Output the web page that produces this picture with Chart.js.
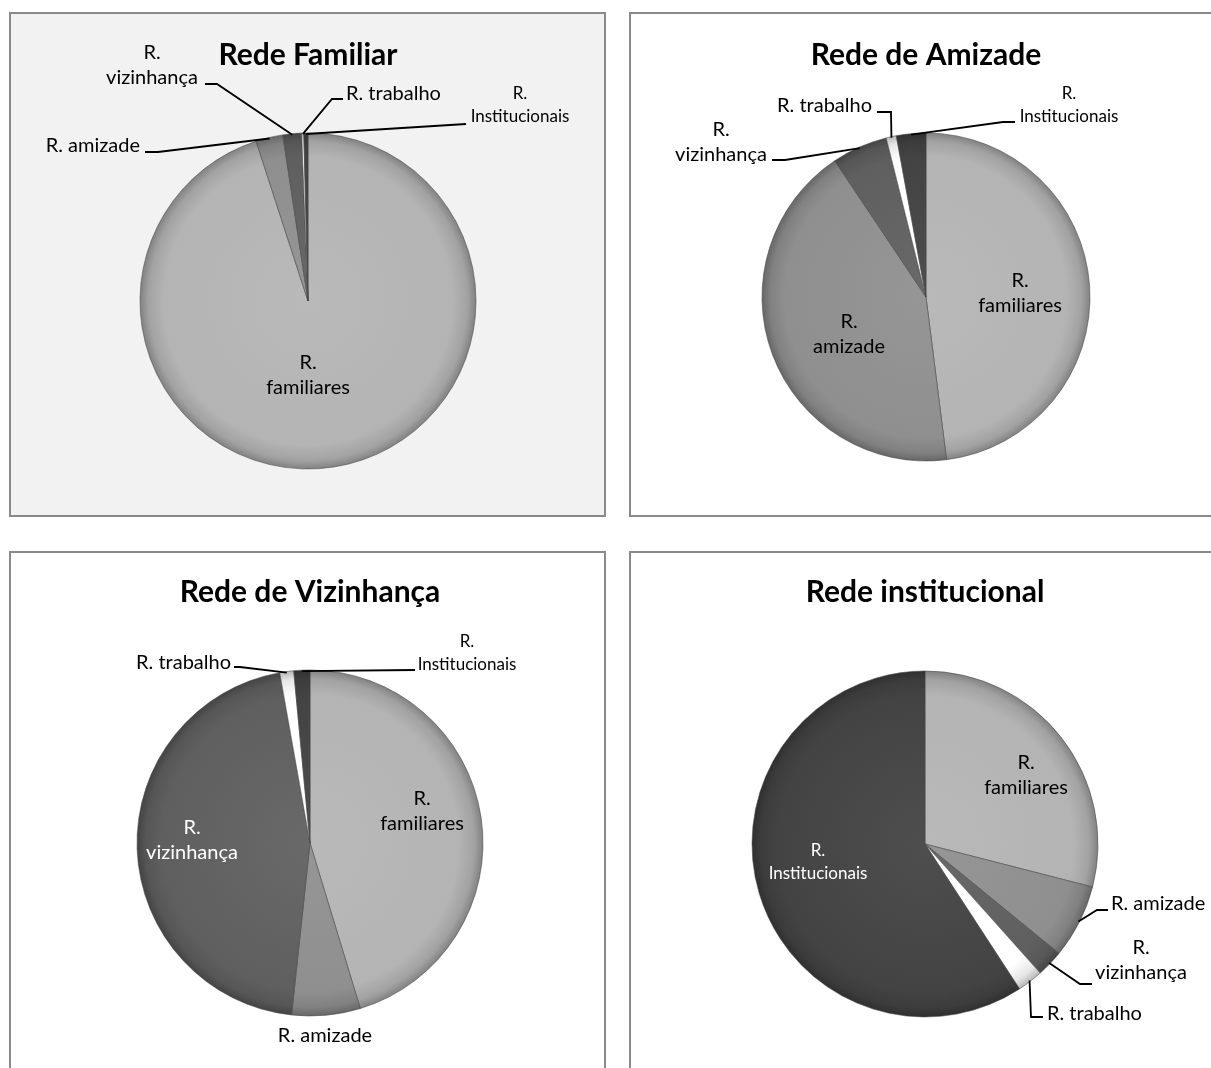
<!DOCTYPE html>
<html lang="pt">
<head>
<meta charset="utf-8">
<title>Redes de suporte</title>
<script src="https://cdn.jsdelivr.net/npm/chart.js@4.4.1/dist/chart.umd.min.js"></script>
<style>
html, body { margin: 0; padding: 0; background: #fff; overflow: hidden; width: 1211px; height: 1068px; }
.painel { position: absolute; border: 2px solid #8a8a8a; box-sizing: border-box; background: #fff; }
.painel canvas { display: block; }
</style>
</head>
<body>
<div class="painel" style="left:9px;top:12px;width:597px;height:505px;background:#f2f2f2"><canvas id="c1"></canvas></div>
<div class="painel" style="left:629px;top:12px;width:600px;height:505px"><canvas id="c2"></canvas></div>
<div class="painel" style="left:9px;top:551px;width:597px;height:540px"><canvas id="c3"></canvas></div>
<div class="painel" style="left:629px;top:551px;width:600px;height:540px"><canvas id="c4"></canvas></div>
<script>
// dados (percentagens)
var categorias = ['R. familiares', 'R. amizade', 'R. vizinhança', 'R. trabalho', 'R. Institucionais'];
var redeFamiliar = [95.0, 2.6, 1.8, 0.2, 0.4];
var redeAmizade = [48.0, 42.6, 5.5, 1.0, 2.9];
var redeVizinhanca = [45.3, 6.4, 45.5, 1.3, 1.5];
var redeInstitucional = [29.0, 6.9, 2.5, 2.4, 59.2];
var titulos = ['Rede Familiar', 'Rede de Amizade', 'Rede de Vizinhança', 'Rede institucional'];

var cores = ['#b4b4b4', '#8f8f8f', '#5f5f5f', '#ffffff', '#434343'];
var FONTE = 'Lato, "Open Sans", sans-serif';

// posicoes na pagina (origem do canvas, centro e raio da pizza, rotulos)
var paineis = [
	{ id: 'c1', dados: redeFamiliar, ox: 11, oy: 14, w: 593, h: 501, cx: 308, cy: 301, r: 168, tituloY: 55,
		rotulos: [
			{ i: 0, x: 308, y: 363, quebra: true },
			{ i: 1, x: 140, y: 146, alinhar: 'right', linha: [[158, 152], [145, 152]] },
			{ i: 2, x: 152, y: 53, quebra: true, linha: [[217, 84], [205, 84]] },
			{ i: 3, x: 346, y: 94, alinhar: 'left', linha: [[332, 99], [343, 99]] },
			{ i: 4, x: 520, y: 94, quebra: true, tam: 17, linha: [[466, 124]] }
		] },
	{ id: 'c2', dados: redeAmizade, ox: 631, oy: 14, w: 596, h: 501, cx: 926, cy: 297, r: 164, tituloY: 55,
		rotulos: [
			{ i: 0, x: 1020, y: 281, quebra: true },
			{ i: 1, x: 849, y: 322, quebra: true },
			{ i: 2, x: 721, y: 130, quebra: true, linha: [[785, 160], [772, 160]] },
			{ i: 3, x: 872, y: 106, alinhar: 'right', linha: [[891, 112], [877, 112]] },
			{ i: 4, x: 1069, y: 94, quebra: true, tam: 17, linha: [[1003, 122], [1015, 122]] }
		] },
	{ id: 'c3', dados: redeVizinhanca, ox: 11, oy: 553, w: 593, h: 536, cx: 310, cy: 843, r: 173, tituloY: 592,
		rotulos: [
			{ i: 0, x: 422, y: 799, quebra: true },
			{ i: 1, x: 325, y: 1036 },
			{ i: 2, x: 192, y: 828, quebra: true, cor: '#fff' },
			{ i: 3, x: 231, y: 663, alinhar: 'right', linha: [[240, 667], [234, 667]] },
			{ i: 4, x: 467, y: 642, quebra: true, tam: 17, linha: [[415, 670]] }
		] },
	{ id: 'c4', dados: redeInstitucional, ox: 631, oy: 553, w: 596, h: 536, cx: 925, cy: 844, r: 173, tituloY: 592,
		rotulos: [
			{ i: 0, x: 1026, y: 763, quebra: true },
			{ i: 1, x: 1111, y: 904, alinhar: 'left', linha: [[1097, 910], [1108, 910]] },
			{ i: 2, x: 1141, y: 948, quebra: true, linha: [[1080, 984], [1092, 984]] },
			{ i: 3, x: 1047, y: 1014, alinhar: 'left', linha: [[1031, 1017], [1043, 1017]] },
			{ i: 4, x: 818, y: 851, quebra: true, tam: 17, cor: '#fff' }
		] }
];

function tom(cor, f) {
	var n = parseInt(cor.slice(1), 16);
	var c = [n >> 16, (n >> 8) & 255, n & 255].map(function(v) {
		return Math.max(0, Math.min(255, Math.round(f < 0 ? v * (1 + f) : v + (255 - v) * f)));
	});
	return 'rgb(' + c.join(',') + ')';
}

// desenha os rotulos e as linhas de chamada
function pluginRotulos(p) {
	return {
		id: 'rotulos',
		afterDatasetsDraw: function(chart) {
			var ctx = chart.ctx;
			var meta = chart.getDatasetMeta(0);
			p.rotulos.forEach(function(it) {
				var arc = meta.data[it.i].getProps(['x', 'y', 'startAngle', 'endAngle', 'outerRadius'], true);
				ctx.save();
				if (it.linha) {
					var a = (arc.startAngle + arc.endAngle) / 2;
					ctx.beginPath();
					ctx.moveTo(arc.x + Math.cos(a) * (arc.outerRadius - 1), arc.y + Math.sin(a) * (arc.outerRadius - 1));
					it.linha.forEach(function(pt) { ctx.lineTo(pt[0] - p.ox, pt[1] - p.oy); });
					ctx.strokeStyle = '#000';
					ctx.lineWidth = 1.8;
					ctx.stroke();
				}
				var tam = it.tam || 20;
				var entre = tam > 18 ? 25 : 23;
				var texto = categorias[it.i];
				var linhas = it.quebra ? [texto.slice(0, texto.indexOf(' ')), texto.slice(texto.indexOf(' ') + 1)] : [texto];
				ctx.font = tam + 'px ' + FONTE;
				ctx.fillStyle = it.cor || '#000';
				ctx.textAlign = it.alinhar || 'center';
				ctx.textBaseline = 'middle';
				linhas.forEach(function(t, k) {
					ctx.fillText(t, it.x - p.ox, it.y - p.oy + k * entre);
				});
				ctx.restore();
			});
		}
	};
}

paineis.forEach(function(p, n) {
	var canvas = document.getElementById(p.id);
	canvas.width = p.w;
	canvas.height = p.h;
	canvas.style.width = p.w + 'px';
	canvas.style.height = p.h + 'px';

	var cx = p.cx - p.ox, cy = p.cy - p.oy;
	var tamTitulo = 30, altTitulo = tamTitulo * 1.2;
	var pt = (p.tituloY - p.oy) - altTitulo / 2;
	var pb = (cy - p.r - 1) - pt - altTitulo;

	new Chart(canvas.getContext('2d'), {
		type: 'pie',
		data: {
			labels: categorias,
			datasets: [{
				data: p.dados,
				radius: p.r,
				borderWidth: 1,
				borderColor: 'rgba(70,70,70,0.55)',
				backgroundColor: function(c) {
					var base = cores[c.dataIndex];
					var area = c.chart.chartArea;
					if (!area) return base;
					var x = (area.left + area.right) / 2, y = (area.top + area.bottom) / 2;
					var g = c.chart.ctx.createRadialGradient(x, y, 0, x, y, p.r);
					g.addColorStop(0, tom(base, 0.06));
					g.addColorStop(0.86, base);
					g.addColorStop(0.95, tom(base, -0.1));
					g.addColorStop(1, tom(base, -0.28));
					return g;
				}
			}]
		},
		options: {
			responsive: false,
			animation: false,
			layout: { padding: { left: cx - p.r - 1, right: p.w - cx - p.r - 1, top: 0, bottom: p.h - cy - p.r - 1 } },
			plugins: {
				legend: { display: false },
				tooltip: { enabled: false },
				title: {
					display: true,
					text: titulos[n],
					color: '#000',
					font: { family: FONTE, size: tamTitulo, weight: 'bold', lineHeight: 1.2 },
					padding: { top: pt, bottom: pb }
				}
			}
		},
		plugins: [pluginRotulos(p)]
	});
});
</script>
</body>
</html>
